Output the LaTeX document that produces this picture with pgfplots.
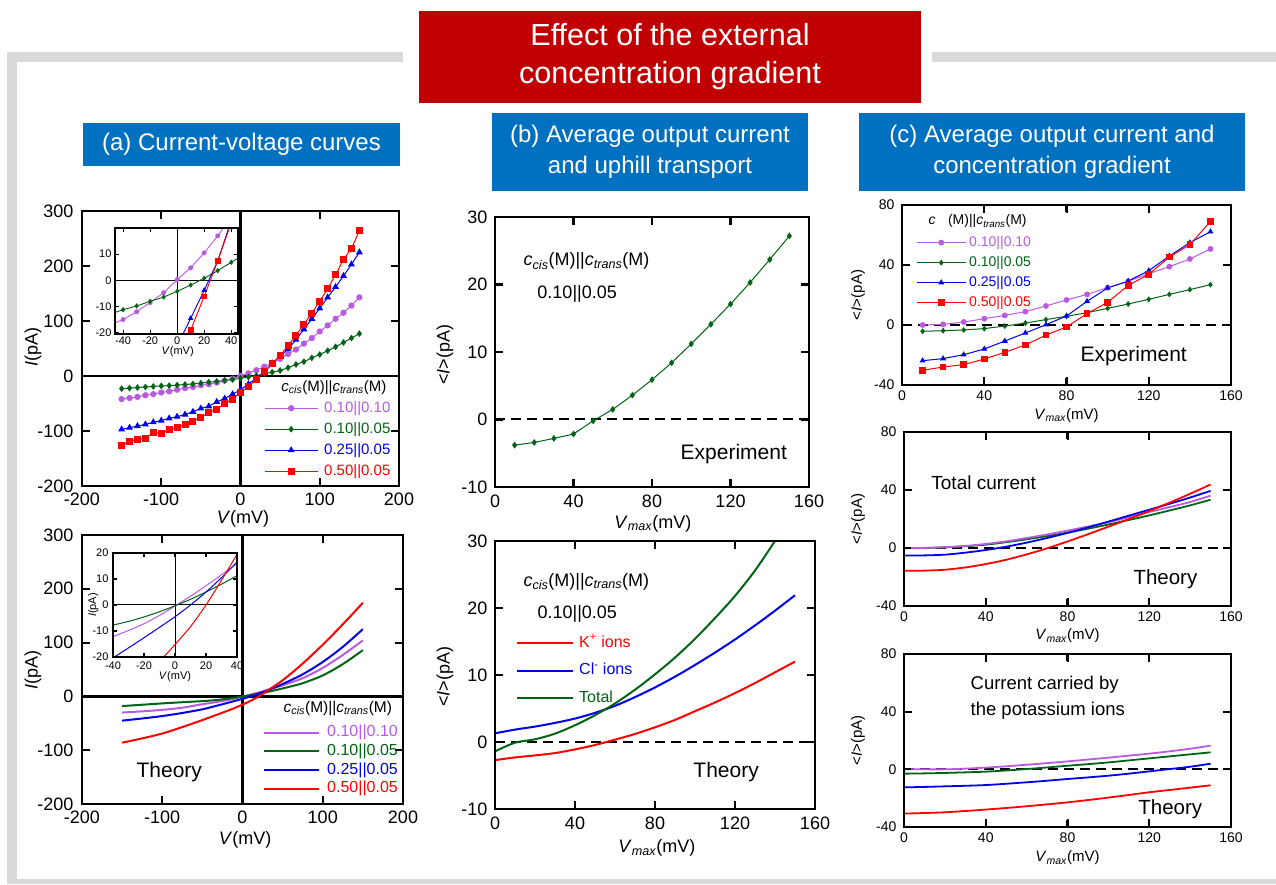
\documentclass[border=0pt]{standalone}
\usepackage{fontspec}
\setmainfont{Liberation Sans}
\usepackage{pgfplots}
\usepackage{pgfplotstable}
\pgfplotsset{compat=1.18}
\pgfkeys{/pgf/number format/assume math mode=true}
\newcommand{\fs}[1]{\fontsize{#1}{#1}\selectfont}
\newcommand{\cc}{\textit{c}\textsubscript{\textit{cis}}(M)||\textit{c}\textsubscript{\textit{trans}}(M)}
\newcommand{\Vmax}{\textit{V}\textsubscript{\textit{max}}(mV)}
\newcommand{\Iav}{<\textit{I}>(pA)}
\definecolor{purp}{RGB}{185,90,225}
\definecolor{dgreen}{RGB}{0,100,20}
\definecolor{dblue}{RGB}{0,0,235}
\definecolor{titlered}{RGB}{192,0,0}
\definecolor{boxblue}{RGB}{0,112,192}
\definecolor{framegray}{RGB}{217,217,217}

% ---------- (a) experiment ----------
\pgfplotstableread{
x y
-150 -42
-140 -40
-130 -38
-120 -35
-110 -33
-100 -30
-90 -28
-80 -25
-70 -22
-60 -20
-50 -17
-40 -15
-30 -12
-20 -8.5
-10 -4.7
0 0.3
10 4.8
20 10.5
30 17
40 24
50 31
60 40
70 48
80 59
90 69
100 81
110 92
120 104
130 115
140 128
150 143
}\tApurp
\pgfplotstableread{
x y
-150 -23
-140 -22
-130 -21
-120 -20
-110 -19
-100 -18
-90 -17.5
-80 -16.5
-70 -15.5
-60 -14.5
-50 -13
-40 -11.2
-30 -9.8
-20 -8
-10 -6.4
0 -4.2
10 -1.8
20 0.8
30 3.7
40 6.9
50 10
60 15
70 21
80 26
90 33
100 39
110 46
120 53
130 61
140 69
150 77
}\tAgreen
\pgfplotstableread{
x y
-150 -97
-140 -94
-130 -91
-120 -88
-110 -84
-100 -81
-90 -77
-80 -74
-70 -70
-60 -65
-50 -59
-40 -55
-30 -47
-20 -41
-10 -33
0 -25
10 -14.5
20 -3.8
30 7.4
40 23
50 36
60 49
70 66
80 85
90 104
100 123
110 143
120 162
130 182
140 203
150 225
}\tAblue
\pgfplotstableread{
x y
-150 -126
-140 -119
-130 -115
-120 -114
-110 -102
-100 -105
-90 -97
-80 -94
-70 -88
-60 -82
-50 -75
-40 -67
-30 -60
-20 -50
-10 -42
0 -30
10 -19
20 -6.1
30 7.4
40 22
50 37
60 55
70 74
80 94
90 114
100 136
110 159
120 184
130 212
140 232
150 264
}\tAred

% ---------- (a) theory ----------
\pgfplotstableread{
x y
-150 -30
-125 -27.8
-100 -25
-75 -21
-50 -14.5
-40 -12.2
-30 -9.8
-20 -7.2
-10 -4.0
0 -0.4
10 3.4
20 7.4
30 11.6
40 16.0
50 20.6
75 33.8
100 53
125 77
150 104
}\tTpurp
\pgfplotstableread{
x y
-150 -18
-125 -15.5
-100 -13
-75 -10.8
-50 -8.8
-40 -7.7
-30 -6.3
-20 -4.6
-10 -2.6
0 -0.3
10 2.2
20 5.0
30 8.0
40 11.3
50 14.8
60 18.5
75 24.5
100 39
125 60
150 86
}\tTgreen
\pgfplotstableread{
x y
-150 -45
-125 -41
-100 -36.5
-75 -30.8
-50 -24
-40 -20.3
-30 -16.5
-20 -12.6
-10 -8.6
0 -4.5
10 0
20 5
30 10.5
40 16.5
50 23
75 41
100 64
125 92
150 125
}\tTblue
\pgfplotstableread{
x y
-150 -86
-125 -78
-100 -69
-75 -57
-50 -44
-40 -38.5
-30 -33
-20 -27.5
-10 -21.7
0 -15.2
10 -8.3
20 0
30 9.5
40 19.5
50 30
60 42
75 61
100 96
125 134
150 174
}\tTred

% ---------- (b) ----------
\pgfplotstableread{
x y
10 -3.8
20 -3.4
30 -2.8
40 -2.15
50 -0.2
60 1.5
70 3.6
80 5.9
90 8.4
100 11.2
110 14.1
120 17.1
130 20.3
140 23.7
150 27.2
}\tBexp
\pgfplotstableread{
x y
0 -2.7
10 -2.3
20 -2.0
30 -1.65
40 -1.1
50 -0.45
60 0.35
70 1.2
80 2.2
90 3.3
100 4.6
110 5.9
120 7.3
130 8.8
140 10.4
150 12.0
}\tBK
\pgfplotstableread{
x y
0 1.3
10 1.85
20 2.3
30 2.85
40 3.5
50 4.35
60 5.4
70 6.7
80 8.15
90 9.75
100 11.5
110 13.35
120 15.3
130 17.4
140 19.6
150 21.9
}\tBCl
\pgfplotstableread{
x y
0 -1.4
10 -0.1
20 0.4
30 1.25
40 2.5
50 4.0
60 5.75
70 7.8
80 10.1
90 12.6
100 15.4
110 18.5
120 21.8
130 25.6
140 30.0
150 34.6
}\tBtot

% ---------- (c) experiment ----------
\pgfplotstableread{
x y
10 0
20 0.4
30 2
40 4.2
50 6.4
60 8.9
70 12.7
80 16.7
90 20.4
100 24.9
110 29.1
120 34.2
130 38.9
140 44
150 50.7
}\tCpurp
\pgfplotstableread{
x y
10 -4.2
20 -3.8
30 -3.3
40 -2.4
50 -0.7
60 1.3
70 3.6
80 5.8
90 8.2
100 11.1
110 14
120 17.1
130 20.4
140 23.6
150 26.9
}\tCgreen
\pgfplotstableread{
x y
10 -23.8
20 -22.4
30 -19.8
40 -16
50 -10.7
60 -5.3
70 0.2
80 6
90 15.8
100 24.7
110 29.3
120 36.2
130 46
140 54.9
150 62.2
}\tCblue
\pgfplotstableread{
x y
10 -30.2
20 -28
30 -26.4
40 -22.7
50 -18.2
60 -13.3
70 -6.7
80 -1.3
90 7.6
100 15.1
110 26.4
120 33.8
130 45.3
140 53.6
150 69.1
}\tCred

% ---------- (c) total theory ----------
\pgfplotstableread{
x y
0 0
10 0.1
20 0.5
30 1.4
40 2.8
50 4.6
60 6.9
70 9.3
80 12
90 14.8
100 17.8
110 21.2
120 24.8
130 28.2
140 31.7
150 36.1
}\tDpurp
\pgfplotstableread{
x y
0 -0.2
10 0
20 0.5
30 1.2
40 2.3
50 4
60 6
70 8.2
80 10.6
90 13.3
100 16.2
110 19.3
120 22.5
130 25.9
140 29.4
150 33.3
}\tDgreen
\pgfplotstableread{
x y
0 -5.1
10 -5.1
20 -4.6
30 -3.2
40 -1.4
50 0.9
60 3.7
70 6.9
80 10.4
90 14.2
100 18.2
110 22.3
120 26.4
130 30.5
140 34.8
150 39.4
}\tDblue
\pgfplotstableread{
x y
0 -15.7
10 -15.6
20 -15
30 -13.4
40 -11.1
50 -8.1
60 -4.4
70 -0.2
80 4.5
90 9.5
100 14.7
110 20.0
120 25.5
130 31.3
140 37.4
150 43.8
}\tDred

% ---------- (c) potassium theory ----------
\pgfplotstableread{
x y
0 0
10 0
20 0
30 0.5
40 1.2
50 2.1
60 3.2
70 4.3
80 5.5
90 6.8
100 8.1
110 9.5
120 10.9
130 12.5
140 14.3
150 16.4
}\tEpurp
\pgfplotstableread{
x y
0 -3
10 -2.8
20 -2.5
30 -2.1
40 -1.6
50 -0.8
60 0.2
70 1.3
80 2.5
90 3.6
100 4.8
110 6.2
120 7.6
130 9
140 10.4
150 11.8
}\tEgreen
\pgfplotstableread{
x y
0 -12.5
10 -12.2
20 -11.8
30 -11.4
40 -10.9
50 -10
60 -9
70 -7.9
80 -6.7
90 -5.6
100 -4.4
110 -3
120 -1.4
130 0.2
140 1.8
150 3.9
}\tEblue
\pgfplotstableread{
x y
0 -30.7
10 -30.3
20 -29.8
30 -28.9
40 -27.9
50 -26.8
60 -25.6
70 -24.3
80 -22.9
90 -21.3
100 -19.6
110 -17.8
120 -15.9
130 -14.3
140 -12.7
150 -11.1
}\tEred

\pgfplotsset{
  panel/.style={
    scale only axis,
    anchor=south west,
    axis line style={line width=2pt},
    major tick style={black, line width=2pt},
    major tick length=8pt,
    tick align=inside,
    tick pos=both,
  },
  inset/.style={
    panel,
    axis line style={line width=1.1pt},
    major tick style={black, line width=1.1pt},
    major tick length=4pt,
    tick label style={font=\fs{11}},
    label style={font=\fs{11}},
  },
  zeroline/.style={black, line width=2.2pt, forget plot},
  thinzero/.style={black, line width=1pt, forget plot},
  dashzero/.style={black, line width=2pt, dash pattern=on 10pt off 6pt, forget plot},
}
\tikzset{
  bx/.style={draw=black, line width=2.2pt, line join=miter},
  tk/.style={draw=black, line width=2.2pt},
  ibx/.style={draw=black, line width=1.1pt},
  itk/.style={draw=black, line width=1.1pt},
}

\begin{document}
\begin{tikzpicture}[x=1pt,y=1pt]
\useasboundingbox (0,0) rectangle (1276,884);
% frame
\fill[framegray] (7,0) rectangle (17,832);
\fill[framegray] (7,822) rectangle (1276,832);
\fill[framegray] (7,0) rectangle (1276,5);
\fill[white] (403,812) rectangle (932,842);
% title
\fill[titlered] (419,781) rectangle (921,873);
\node[text=white, align=center, font=\fontsize{30.5}{38}\selectfont] at (670,827) {Effect of the external\\concentration gradient};
\fill[boxblue] (83,718) rectangle (400,761);
\node[text=white, font=\fs{24}] at (241.5,739.5) {(a) Current-voltage curves};
\fill[boxblue] (492,693) rectangle (808,771);
\node[text=white, align=center, font=\fontsize{24}{31}\selectfont] at (650,732) {(b) Average output current\\and uphill transport};
\fill[boxblue] (859,693) rectangle (1245,771);
\node[text=white, align=center, font=\fontsize{24}{31}\selectfont] at (1052,732) {(c) Average output current and\\concentration gradient};

% ===== (a) top =====
\begin{axis}[panel, at={(82pt,398pt)}, width=317pt, height=275pt,
  xmin=-200, xmax=200, ymin=-200, ymax=300,
  xtick={-200,-100,0,100,200}, ytick={-200,-100,0,100,200,300},
  tick label style={font=\fs{18}},
  yticklabel style={xshift=-5pt}, xticklabel style={yshift=-3pt},
  xlabel={\textit{V}(mV)}, ylabel={\textit{I}(pA)}, label style={font=\fs{18}},
  xlabel style={at={(axis description cs:0.508,-0.138)}, anchor=base},
  ylabel style={at={(axis description cs:-0.155,0.505)}, anchor=center},
  legend style={draw=none, fill=none, at={(0.574,0.309)}, anchor=north west, inner sep=0pt,
    row sep=7pt, column sep=6pt, font=\fs{15}, nodes={inner sep=0pt, text height=11pt, text depth=3pt}},
  legend cell align=left,
  legend image code/.code={\draw[mark repeat=2,mark phase=2,#1] plot coordinates {(0pt,0pt) (26.5pt,0pt) (53pt,0pt)};},
]
\addplot[zeroline] coordinates {(-200,0) (200,0)};
\addplot[zeroline] coordinates {(0,-200) (0,300)};
\addplot[color=purp, line width=1pt, mark=*, mark size=2.6pt] table {\tApurp};
\addlegendentry{\textcolor{purp}{0.10||0.10}}
\addplot[color=dgreen, line width=1pt, mark=diamond*, mark size=2.6pt] table {\tAgreen};
\addlegendentry{\textcolor{dgreen}{0.10||0.05}}
\addplot[color=dblue, line width=1pt, mark=triangle*, mark size=3pt] table {\tAblue};
\addlegendentry{\textcolor{dblue}{0.25||0.05}}
\addplot[color=red, line width=1pt, mark=square*, mark size=3pt] table {\tAred};
\addlegendentry{\textcolor{red}{0.50||0.05}}
\node[anchor=base west, font=\fs{15}] at (rel axis cs:0.618,0.345) {\cc};
\end{axis}
\draw[bx] (82,398) rectangle (399,673);
\foreach \x in {161.25,319.75} {\draw[tk] (\x,398) -- ++(0,8); \draw[tk] (\x,673) -- ++(0,-8);}
\foreach \y in {453,563,618} {\draw[tk] (82,\y) -- ++(8,0); \draw[tk] (399,\y) -- ++(-8,0);}
% inset (a) top
\begin{axis}[inset, at={(115pt,550pt)}, width=123pt, height=106pt,
  xmin=-46, xmax=45, ymin=-20.5, ymax=20,
  xtick={-40,-20,0,20,40}, ytick={-20,-10,0,10},
  xticklabel style={yshift=1pt},
  xlabel={\textit{V}(mV)},
  xlabel style={at={(axis description cs:0.51,-0.17)}, anchor=center},
  axis background/.style={fill=white},
]
\addplot[thinzero] coordinates {(-46,0) (45,0)};
\addplot[thinzero] coordinates {(0,-20.5) (0,20)};
\addplot[color=purp, line width=0.9pt, mark=*, mark size=2pt] table {\tApurp};
\addplot[color=dgreen, line width=0.9pt, mark=diamond*, mark size=2pt] table {\tAgreen};
\addplot[color=dblue, line width=0.9pt, mark=triangle*, mark size=2.3pt] table {\tAblue};
\addplot[color=red, line width=0.9pt, mark=square*, mark size=2.3pt] table {\tAred};
\end{axis}
\draw[ibx] (115,550) rectangle (238,656);
\foreach \x in {123.1,150.1,204.2,231.2} {\draw[itk] (\x,550) -- ++(0,4); \draw[itk] (\x,656) -- ++(0,-4);}
\foreach \y in {577.5,629.8} {\draw[itk] (115,\y) -- ++(4,0); \draw[itk] (238,\y) -- ++(-4,0);}

% ===== (a) bottom =====
\begin{axis}[panel, at={(82pt,80pt)}, width=321pt, height=269pt,
  xmin=-200, xmax=200, ymin=-200, ymax=300,
  xtick={-200,-100,0,100,200}, ytick={-200,-100,0,100,200,300},
  tick label style={font=\fs{18}},
  yticklabel style={xshift=-5pt}, xticklabel style={yshift=-3pt},
  xlabel={\textit{V}(mV)}, ylabel={\textit{I}(pA)}, label style={font=\fs{18}},
  xlabel style={at={(axis description cs:0.508,-0.152)}, anchor=base},
  ylabel style={at={(axis description cs:-0.153,0.498)}, anchor=center},
  legend style={draw=none, fill=none, at={(0.564,0.294)}, anchor=north west, inner sep=0pt,
    row sep=3.7pt, column sep=7pt, font=\fs{16}, nodes={inner sep=0pt, text height=11.5pt, text depth=3.5pt}},
  legend cell align=left,
  legend image code/.code={\draw[#1] (0pt,0pt) -- (55pt,0pt);},
]
\addplot[zeroline] coordinates {(-200,0) (200,0)};
\addplot[zeroline] coordinates {(0,-200) (0,300)};
\addplot[color=purp, line width=2pt, smooth] table {\tTpurp};
\addlegendentry{\textcolor{purp}{0.10||0.10}}
\addplot[color=dgreen, line width=2pt, smooth] table {\tTgreen};
\addlegendentry{\textcolor{dgreen}{0.10||0.05}}
\addplot[color=dblue, line width=2pt, smooth] table {\tTblue};
\addlegendentry{\textcolor{dblue}{0.25||0.05}}
\addplot[color=red, line width=2pt, smooth] table {\tTred};
\addlegendentry{\textcolor{red}{0.50||0.05}}
\node[anchor=base west, font=\fs{15.5}] at (rel axis cs:0.617,0.342) {\cc};
\node[anchor=base west, font=\fs{21}] at (rel axis cs:0.159,0.097) {Theory};
\end{axis}
\draw[bx] (82,80) rectangle (403,349);
\foreach \x in {162.25,322.75} {\draw[tk] (\x,80) -- ++(0,8); \draw[tk] (\x,349) -- ++(0,-8);}
\foreach \y in {133.8,241.4,295.2} {\draw[tk] (82,\y) -- ++(8,0); \draw[tk] (403,\y) -- ++(-8,0);}
% inset (a) bottom
\begin{axis}[inset, at={(113pt,227pt)}, width=124pt, height=104pt,
  xmin=-40, xmax=40, ymin=-20, ymax=20,
  xtick={-40,-20,0,20,40}, ytick={-20,-10,0,10,20},
  yticklabel style={xshift=-1pt}, xticklabel style={yshift=-1pt},
  xlabel={\textit{V}(mV)}, ylabel={\textit{I}(pA)},
  xlabel style={at={(axis description cs:0.5,-0.185)}, anchor=center},
  ylabel style={at={(axis description cs:-0.16,0.5)}, anchor=center},
  axis background/.style={fill=white},
]
\addplot[thinzero] coordinates {(-40,0) (40,0)};
\addplot[thinzero] coordinates {(0,-20) (0,20)};
\addplot[color=purp, line width=1pt, smooth] table {\tTpurp};
\addplot[color=dgreen, line width=1pt, smooth] table {\tTgreen};
\addplot[color=dblue, line width=1pt, smooth] table {\tTblue};
\addplot[color=red, line width=1pt, smooth] table {\tTred};
\end{axis}
\draw[ibx] (113,227) rectangle (237,331);
\foreach \x in {144,206} {\draw[itk] (\x,227) -- ++(0,4); \draw[itk] (\x,331) -- ++(0,-4);}
\foreach \y in {253,305} {\draw[itk] (113,\y) -- ++(4,0); \draw[itk] (237,\y) -- ++(-4,0);}

% ===== (b) top =====
\begin{axis}[panel, at={(495pt,397pt)}, width=314pt, height=270pt,
  xmin=0, xmax=160, ymin=-10, ymax=30,
  xtick={0,40,80,120,160}, ytick={-10,0,10,20,30},
  tick label style={font=\fs{18}},
  yticklabel style={xshift=-4pt}, xticklabel style={yshift=-4pt},
  xlabel={\Vmax}, ylabel={\Iav}, label style={font=\fs{18}},
  xlabel style={at={(axis description cs:0.503,-0.152)}, anchor=base},
  ylabel style={at={(axis description cs:-0.159,0.489)}, anchor=center},
]
\addplot[dashzero] coordinates {(0,0) (160,0)};
\addplot[color=dgreen, line width=1pt, mark=diamond*, mark size=2.6pt] table {\tBexp};
\node[anchor=base west, font=\fs{18}] at (rel axis cs:0.08,0.819) {\cc};
\node[anchor=base west, font=\fs{18}] at (rel axis cs:0.124,0.70) {0.10||0.05};
\node[anchor=base west, font=\fs{21}] at (rel axis cs:0.58,0.10) {Experiment};
\end{axis}
\draw[bx] (495,397) rectangle (809,667);
\foreach \x in {573.5,652,730.5} {\draw[tk] (\x,397) -- ++(0,8); \draw[tk] (\x,667) -- ++(0,-8);}
\foreach \y in {464.5,532,599.5} {\draw[tk] (495,\y) -- ++(8,0); \draw[tk] (809,\y) -- ++(-8,0);}

% ===== (b) bottom =====
\begin{axis}[panel, at={(495pt,75pt)}, width=320pt, height=268pt,
  xmin=0, xmax=160, ymin=-10, ymax=30,
  xtick={0,40,80,120,160}, ytick={-10,0,10,20,30},
  tick label style={font=\fs{18}},
  yticklabel style={xshift=-4pt}, xticklabel style={yshift=-4pt},
  xlabel={\Vmax}, ylabel={\Iav}, label style={font=\fs{18}},
  xlabel style={at={(axis description cs:0.506,-0.164)}, anchor=base},
  ylabel style={at={(axis description cs:-0.156,0.493)}, anchor=center},
  legend style={draw=none, fill=none, at={(0.0656,0.649)}, anchor=north west, inner sep=0pt,
    row sep=12pt, column sep=5pt, font=\fs{16}, nodes={inner sep=0pt, text height=12pt, text depth=3.5pt}},
  legend cell align=left,
  legend image code/.code={\draw[#1] (0pt,0pt) -- (56pt,0pt);},
]
\addplot[dashzero] coordinates {(0,0) (160,0)};
\addplot[color=red, line width=2pt, smooth] table {\tBK};
\addlegendentry{\textcolor{red}{K\textsuperscript{+} ions}}
\addplot[color=dblue, line width=2pt, smooth] table {\tBCl};
\addlegendentry{\textcolor{dblue}{Cl\textsuperscript{-} ions}}
\addplot[color=dgreen, line width=2pt, smooth] table {\tBtot};
\addlegendentry{\textcolor{dgreen}{Total}}
\node[anchor=base west, font=\fs{18}] at (rel axis cs:0.078,0.832) {\cc};
\node[anchor=base west, font=\fs{18}] at (rel axis cs:0.122,0.709) {0.10||0.05};
\node[anchor=base west, font=\fs{21}] at (rel axis cs:0.609,0.116) {Theory};
\end{axis}
\draw[bx] (495,75) rectangle (815,343);
\foreach \x in {575,655,735} {\draw[tk] (\x,75) -- ++(0,8); \draw[tk] (\x,343) -- ++(0,-8);}
\foreach \y in {142,209,276} {\draw[tk] (495,\y) -- ++(8,0); \draw[tk] (815,\y) -- ++(-8,0);}

% ===== (c) top =====
\begin{axis}[panel, at={(902pt,499pt)}, width=329pt, height=180pt,
  xmin=0, xmax=160, ymin=-40, ymax=80,
  xtick={0,40,80,120,160}, ytick={-40,0,40,80},
  tick label style={font=\fs{14}},
  yticklabel style={xshift=-4pt}, xticklabel style={yshift=-2pt},
  xlabel={\Vmax}, ylabel={\Iav}, label style={font=\fs{15}},
  xlabel style={at={(axis description cs:0.5,-0.189)}, anchor=base},
  ylabel style={at={(axis description cs:-0.134,0.5)}, anchor=center},
  legend style={draw=none, fill=none, at={(0.0426,0.828)}, anchor=north west, inner sep=0pt,
    row sep=7pt, column sep=3pt, font=\fs{14}, nodes={inner sep=0pt, text height=10pt, text depth=3pt}},
  legend cell align=left,
  legend image code/.code={\draw[mark repeat=2,mark phase=2,#1] plot coordinates {(0pt,0pt) (24.5pt,0pt) (49pt,0pt)};},
]
\addplot[dashzero] coordinates {(0,0) (160,0)};
\addplot[color=purp, line width=1pt, mark=*, mark size=2.4pt] table {\tCpurp};
\addlegendentry{\textcolor{purp}{0.10||0.10}}
\addplot[color=dgreen, line width=1pt, mark=diamond*, mark size=2.2pt] table {\tCgreen};
\addlegendentry{\textcolor{dgreen}{0.10||0.05}}
\addplot[color=dblue, line width=1pt, mark=triangle*, mark size=2.5pt] table {\tCblue};
\addlegendentry{\textcolor{dblue}{0.25||0.05}}
\addplot[color=red, line width=1pt, mark=square*, mark size=2.8pt] table {\tCred};
\addlegendentry{\textcolor{red}{0.50||0.05}}
\node[anchor=base west, font=\fs{14}] at (rel axis cs:0.07,0.889) {\textit{c}\textsubscript{\phantom{\textit{cis}}}(M)||\textit{c}\textsubscript{\textit{trans}}(M)};
\node[anchor=base west, font=\fs{21}] at (rel axis cs:0.532,0.128) {Experiment};
\end{axis}
\draw[bx] (902,499) rectangle (1231,679);
\foreach \x in {984.25,1066.5,1148.75} {\draw[tk] (\x,499) -- ++(0,7); \draw[tk] (\x,679) -- ++(0,-7);}
\foreach \y in {559,619} {\draw[tk] (902,\y) -- ++(7,0); \draw[tk] (1231,\y) -- ++(-7,0);}

% ===== (c) middle =====
\begin{axis}[panel, at={(904pt,278pt)}, width=327pt, height=174pt,
  xmin=0, xmax=160, ymin=-40, ymax=80,
  xtick={0,40,80,120,160}, ytick={-40,0,40,80},
  tick label style={font=\fs{14}},
  yticklabel style={xshift=-4pt}, xticklabel style={yshift=-2pt},
  xlabel={\Vmax}, ylabel={\Iav}, label style={font=\fs{15}},
  xlabel style={at={(axis description cs:0.5,-0.195)}, anchor=base},
  ylabel style={at={(axis description cs:-0.141,0.5)}, anchor=center},
]
\addplot[dashzero] coordinates {(0,0) (160,0)};
\addplot[color=dgreen, line width=1.8pt, smooth] table {\tDgreen};
\addplot[color=purp, line width=1.8pt, smooth] table {\tDpurp};
\addplot[color=dblue, line width=1.8pt, smooth] table {\tDblue};
\addplot[color=red, line width=1.8pt, smooth] table {\tDred};
\node[anchor=base west, font=\fs{19}] at (rel axis cs:0.073,0.672) {Total current};
\node[anchor=base west, font=\fs{20.5}] at (rel axis cs:0.691,0.126) {Theory};
\end{axis}
\draw[bx] (904,278) rectangle (1231,452);
\foreach \x in {985.75,1067.5,1149.25} {\draw[tk] (\x,278) -- ++(0,7); \draw[tk] (\x,452) -- ++(0,-7);}
\foreach \y in {336,394} {\draw[tk] (904,\y) -- ++(7,0); \draw[tk] (1231,\y) -- ++(-7,0);}

% ===== (c) bottom =====
\begin{axis}[panel, at={(904pt,57pt)}, width=327pt, height=173pt,
  xmin=0, xmax=160, ymin=-40, ymax=80,
  xtick={0,40,80,120,160}, ytick={-40,0,40,80},
  tick label style={font=\fs{14}},
  yticklabel style={xshift=-4pt}, xticklabel style={yshift=-2pt},
  xlabel={\Vmax}, ylabel={\Iav}, label style={font=\fs{15}},
  xlabel style={at={(axis description cs:0.5,-0.202)}, anchor=base},
  ylabel style={at={(axis description cs:-0.141,0.5)}, anchor=center},
]
\addplot[dashzero] coordinates {(0,0) (160,0)};
\addplot[color=purp, line width=1.8pt, smooth] table {\tEpurp};
\addplot[color=dgreen, line width=1.8pt, smooth] table {\tEgreen};
\addplot[color=dblue, line width=1.8pt, smooth] table {\tEblue};
\addplot[color=red, line width=1.8pt, smooth] table {\tEred};
\node[anchor=base west, font=\fs{18.5}] at (rel axis cs:0.193,0.792) {Current carried by};
\node[anchor=base west, font=\fs{18.5}] at (rel axis cs:0.193,0.647) {the potassium ions};
\node[anchor=base west, font=\fs{20.5}] at (rel axis cs:0.706,0.075) {Theory};
\end{axis}
\draw[bx] (904,57) rectangle (1231,230);
\foreach \x in {985.75,1067.5,1149.25} {\draw[tk] (\x,57) -- ++(0,7); \draw[tk] (\x,230) -- ++(0,-7);}
\foreach \y in {114.67,172.33} {\draw[tk] (904,\y) -- ++(7,0); \draw[tk] (1231,\y) -- ++(-7,0);}
\end{tikzpicture}
\end{document}
